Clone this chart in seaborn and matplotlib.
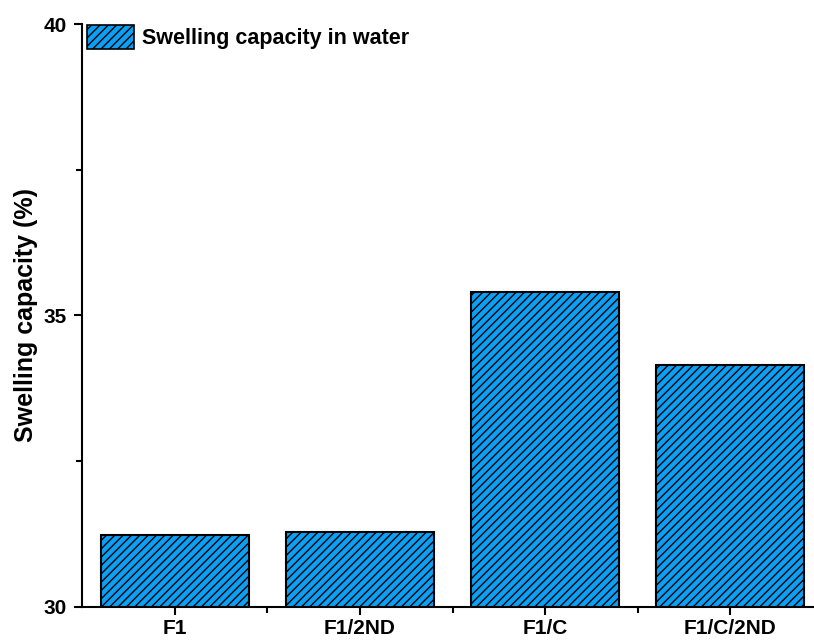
import matplotlib
matplotlib.use("Agg")
import matplotlib.pyplot as plt
import seaborn as sns
import pandas as pd
from matplotlib.patches import Patch
from matplotlib.ticker import MultipleLocator, FixedLocator

categories = ["F1", "F1/2ND", "F1/C", "F1/C/2ND"]
swelling = [31.23, 31.29, 35.40, 34.15]
legend_label = "Swelling capacity in water"
ylabel = "Swelling capacity (%)"

sns.set_style("ticks")
plt.rcParams['font.family'] = ['Liberation Sans', 'DejaVu Sans']
plt.rcParams['font.weight'] = 'bold'
plt.rcParams['hatch.linewidth'] = 1.0
plt.rcParams['text.color'] = 'black'
plt.rcParams['axes.labelcolor'] = 'black'
plt.rcParams['xtick.color'] = 'black'
plt.rcParams['ytick.color'] = 'black'
plt.rcParams['axes.edgecolor'] = 'black'

bar_color = "#0AA0F5"
df = pd.DataFrame({"cat": categories, "val": swelling})

fig = plt.figure(figsize=(8.14, 6.44), dpi=100)
ax = fig.add_axes([82/814, 37/644, (823-82)/814, 583/644])
sns.barplot(data=df, x="cat", y="val", color=bar_color, width=0.8,
            edgecolor="black", linewidth=1.5, saturation=1, ax=ax)
for p in ax.patches:
    p.set_hatch("////")
    p.set_facecolor(bar_color)
    p.set_edgecolor("black")

ax.set_xlim(-0.5, 3.5)
ax.set_ylim(30, 40)
ax.yaxis.set_major_locator(MultipleLocator(5))
ax.yaxis.set_minor_locator(MultipleLocator(2.5))
ax.xaxis.set_minor_locator(FixedLocator([0.5, 1.5, 2.5]))
ax.set_xlabel("")
ax.set_ylabel(ylabel, fontsize=18, fontweight='bold', labelpad=4)
ax.tick_params(axis='both', which='major', direction='out', length=6, width=1.5, labelsize=15)
ax.tick_params(axis='x', which='major', pad=3)
ax.tick_params(axis='y', which='major', pad=5)
ax.tick_params(axis='both', which='minor', direction='out', length=4, width=1.5)
for lab in ax.get_xticklabels() + ax.get_yticklabels():
    lab.set_fontweight('bold')
sns.despine(ax=ax, top=True, right=True)
for s in ["left", "bottom"]:
    ax.spines[s].set_linewidth(1.5)

handle = Patch(facecolor=bar_color, edgecolor="black", hatch="////", linewidth=1.2, label=legend_label)
leg = ax.legend(handles=[handle], loc="upper left", bbox_to_anchor=(0.005, 1.0), frameon=False,
                handlelength=2.2, handleheight=1.3, handletextpad=0.35,
                borderaxespad=0.0, borderpad=0.05, prop={'weight': 'bold', 'size': 15.5})
fig.savefig("out.png", dpi=100)
